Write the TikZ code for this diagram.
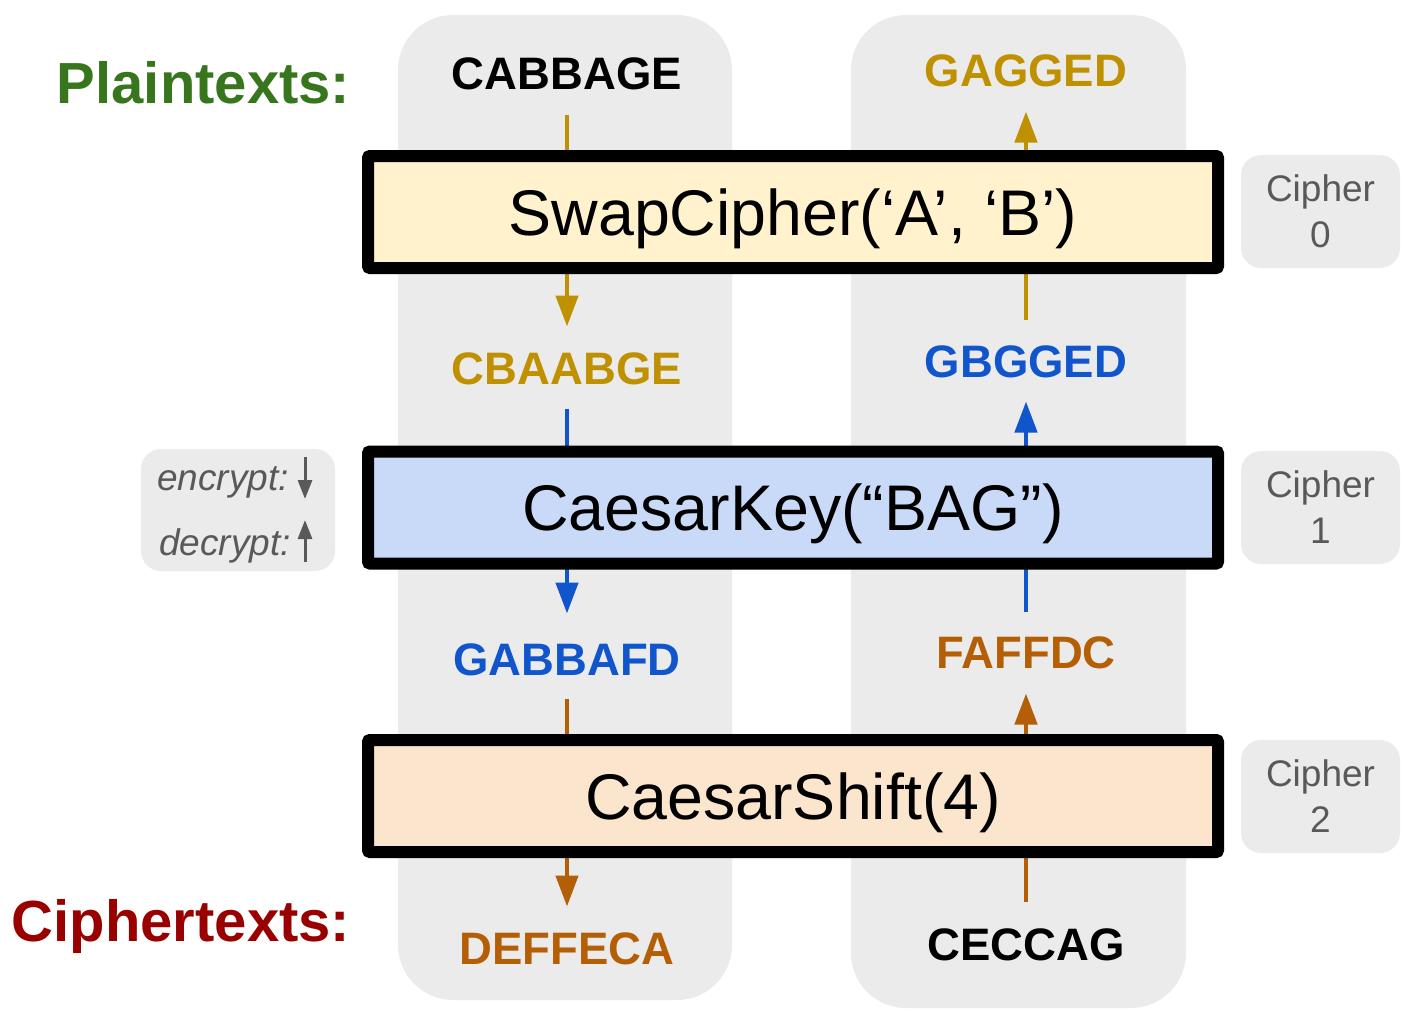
\documentclass[tikz,border=0pt]{standalone}
\usepackage{fontspec}
\setmainfont{Liberation Sans}
\usetikzlibrary{arrows.meta}
\definecolor{colgray}{HTML}{EBEBEB}
\definecolor{cgold}{HTML}{BF9000}
\definecolor{cblue}{HTML}{1155CC}
\definecolor{cbrown}{HTML}{B45F06}
\definecolor{cgreen}{HTML}{38761D}
\definecolor{cred}{HTML}{990000}
\definecolor{fyellow}{HTML}{FFF2CC}
\definecolor{fblue}{HTML}{C9DAF8}
\definecolor{forange}{HTML}{FCE5CD}
\definecolor{labtext}{HTML}{595959}
\tikzset{
  column/.style={fill=colgray, draw=none, rounded corners=55pt},
  cipherbox/.style={draw=black, line width=12pt, rounded corners=2pt, minimum width=850pt, minimum height=112pt, inner sep=0pt,
     font=\fontsize{64.5}{70}\selectfont, text height=46.2pt, text depth=0pt},
  word/.style={font=\fontsize{45.5}{50}\bfseries\selectfont, inner sep=0pt, text height=32.6pt, text depth=0pt},
  conn/.style={line width=4.5pt},
  arr/.style={line width=4.5pt, -{Triangle[width=22pt,length=31pt]}},
  graylabel/.style={fill=colgray, draw=none, rounded corners=20pt, minimum width=159pt, minimum height=113pt, align=center,
     text=labtext, font=\fontsize{37}{46}\selectfont, inner sep=0pt},
  bigtitle/.style={font=\fontsize{58}{60}\bfseries\selectfont, inner sep=0pt, anchor=base},
  legendtext/.style={font=\fontsize{37}{40}\itshape\selectfont, text=labtext, inner sep=0pt, anchor=base east},
  legendarr/.style={line width=3pt, draw=labtext, -{Triangle[width=14pt,length=19pt]}}
}
\begin{document}
\begin{tikzpicture}[x=1pt,y=-1pt]
\useasboundingbox (0,0) rectangle (1402,1009);
% columns
\fill[column] (398,15) rectangle (732,1000);
\fill[column] (851,15) rectangle (1186,1008);

% titles
\node[bigtitle, text=cgreen] (plain) at (203.5,103) {Plaintexts:};
\node[bigtitle, text=cred] (cipher) at (181,941.5) {Ciphertexts:};

% words left column
\node[word, text=black]  (cabbage) at (567,73.5) {CABBAGE};
\node[word, text=cgold]  (cbaabge) at (567,368) {CBAABGE};
\node[word, text=cblue]  (gabbafd) at (567,659) {GABBAFD};
\node[word, text=cbrown] (deffeca) at (567,948) {DEFFECA};
% words right column
\node[word, text=cgold]  (gagged) at (1026,70) {GAGGED};
\node[word, text=cblue]  (gbgged) at (1026,361) {GBGGED};
\node[word, text=cbrown] (faffdc) at (1026,652) {FAFFDC};
\node[word, text=black]  (ceccag) at (1026,944) {CECCAG};

% box anchor coordinates
\coordinate (swapc) at (793,212);
\coordinate (keyc) at (793,507.5);
\coordinate (shiftc) at (793,796);

% connectors (drawn below the boxes)
\draw[conn, cgold] ([yshift=-25pt]cabbage.south) -- (cabbage |- swapc);
\draw[arr, cgold] (cabbage |- swapc) -- ([yshift=25pt]cbaabge.north);
\draw[conn, cblue] ([yshift=-24pt]cbaabge.south) -- (cbaabge |- keyc);
\draw[arr, cblue] (cbaabge |- keyc) -- ([yshift=29pt]gabbafd.north);
\draw[conn, cbrown] ([yshift=-23pt]gabbafd.south) -- (gabbafd |- shiftc);
\draw[arr, cbrown] (gabbafd |- shiftc) -- ([yshift=25pt]deffeca.north);

\draw[conn, cbrown] ([yshift=26pt]ceccag.north) -- (ceccag |- shiftc);
\draw[arr, cbrown] (ceccag |- shiftc) -- ([yshift=-25pt]faffdc.south);
\draw[conn, cblue] ([yshift=24pt]faffdc.north) -- (faffdc |- keyc);
\draw[arr, cblue] (faffdc |- keyc) -- ([yshift=-24pt]gbgged.south);
\draw[conn, cgold] ([yshift=25pt]gbgged.north) -- (gbgged |- swapc);
\draw[arr, cgold] (gbgged |- swapc) -- ([yshift=-25pt]gagged.south);

% cipher boxes
\node[cipherbox, fill=fyellow] (swap) at (swapc) {SwapCipher(‘A’, ‘B’)};
\node[cipherbox, fill=fblue] (key) at (keyc) {CaesarKey(“BAG”)};
\node[cipherbox, fill=forange] (shift) at (shiftc) {CaesarShift(4)};

% cipher index labels
\node[graylabel] (lab0) at (1320.5,211.5) {Cipher\\0};
\node[graylabel] (lab1) at (1320.5,507.5) {Cipher\\1};
\node[graylabel] (lab2) at (1320.5,796.5) {Cipher\\2};

% legend
\node[fill=colgray, draw=none, rounded corners=20pt, minimum width=194pt, minimum height=122pt, inner sep=0pt] (legend) at (238,510) {};
\node[legendtext] (enc) at (289,490) {encrypt:};
\node[legendtext] (dec) at (291,555) {decrypt:};
\coordinate (encA) at (305,457);
\coordinate (encB) at (305,499);
\coordinate (decA) at (305,562);
\coordinate (decB) at (305,520);
\draw[legendarr] (encA) -- (encB);
\draw[legendarr] (decA) -- (decB);
\end{tikzpicture}
\end{document}
